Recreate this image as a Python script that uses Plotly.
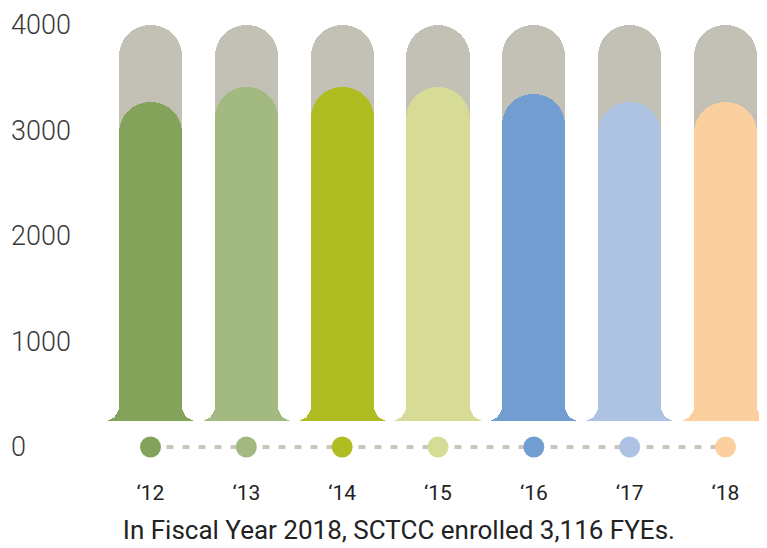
import plotly.graph_objects as go

# ---- data ----
years = ["\u201812", "\u201813", "\u201814", "\u201815", "\u201816", "\u201817", "\u201818"]
fye_values = [3270, 3410, 3410, 3410, 3345, 3270, 3270]
capacity = [4000] * 7
y_ticks = [0, 1000, 2000, 3000, 4000]
y_tick_labels = ["0", "1000", "2000", "3000", "4000"]
bar_colors = ["#83a35a", "#a3b982", "#b0bd22", "#d6dc96", "#729dd1", "#aec3e4", "#fcd09e"]
title_text = "In Fiscal Year 2018, SCTCC enrolled 3,116 FYEs."

GRAY = "#c3c1b6"
BAR_BASE = 250      # bars float a little above the zero line
BAR_W = 0.66
FLARE_H = 600

x = list(range(len(years)))
gap_x = [i - 0.5 for i in range(len(years) + 1)]

fig = go.Figure()

# background capacity bars
fig.add_trace(go.Bar(
    x=x, y=[c - BAR_BASE for c in capacity], base=BAR_BASE, width=BAR_W,
    marker=dict(color=GRAY, cornerradius="50%", line=dict(width=0)),
    hoverinfo="skip", showlegend=False))

# flared feet (full category width)
fig.add_trace(go.Bar(
    x=x, y=[FLARE_H] * len(x), base=BAR_BASE, width=1.0,
    marker=dict(color=bar_colors, line=dict(width=0)),
    hoverinfo="skip", showlegend=False))

# value bars
fig.add_trace(go.Bar(
    x=x, y=[v - BAR_BASE for v in fye_values], base=BAR_BASE, width=BAR_W,
    marker=dict(color=bar_colors, cornerradius="50%", line=dict(width=0)),
    hovertemplate="%{customdata}: %{y}<extra></extra>",
    customdata=years, showlegend=False))

# white gaps between bars with rounded bottoms (carve the flares)
fig.add_trace(go.Bar(
    x=gap_x, y=[-(2000 - BAR_BASE)] * len(gap_x), base=2000, width=1.0 - BAR_W,
    marker=dict(color="white", cornerradius=15, line=dict(width=0)),
    hoverinfo="skip", showlegend=False))

# dotted baseline with dots
fig.add_trace(go.Scatter(
    x=x, y=[0] * len(x), mode="lines+markers",
    line=dict(color="#c8c6bb", width=4, dash="7px,9px"),
    marker=dict(color=bar_colors, size=21, line=dict(width=0)),
    hoverinfo="skip", showlegend=False))

fig.update_layout(
    width=759, height=540,
    barmode="overlay", bargap=0,
    paper_bgcolor="white", plot_bgcolor="white",
    margin=dict(l=0, r=0, t=0, b=78),
    font=dict(family="Roboto, sans-serif", color="#333333"),
    title=dict(text=title_text, x=0.515, xanchor="center", y=0.033, yanchor="middle",
               yref="container", font=dict(size=26, color="#222222", family="Roboto")),
)

fig.update_xaxes(
    range=[-1.487, 6.433], tickmode="array", tickvals=x, ticktext=years,
    showgrid=False, zeroline=False, showline=False, ticks="",
    tickfont=dict(size=21, color="#222222", family="Roboto"),
    ticklabelstandoff=8, fixedrange=True)

fig.update_yaxes(
    range=[-218, 4161], tickmode="array", tickvals=y_ticks, ticktext=y_tick_labels,
    showgrid=False, zeroline=False, showline=False, ticks="",
    ticklabelposition="inside", ticklabelstandoff=0,
    tickfont=dict(size=27, color="#3a3a3a", family="Roboto", weight=300),
    fixedrange=True)

fig.write_html("out.html")
